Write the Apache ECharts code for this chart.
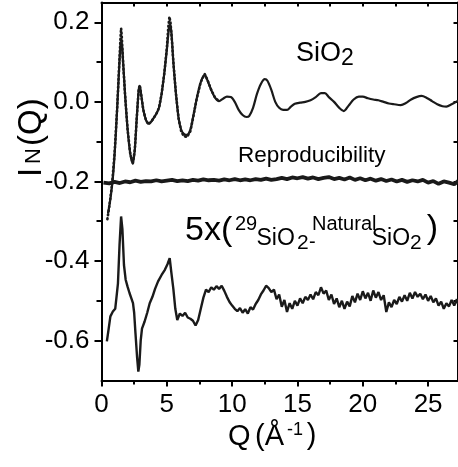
<!DOCTYPE html>
<html>
<head>
<meta charset="utf-8">
<script src="https://cdn.jsdelivr.net/npm/echarts@6/dist/echarts.min.js"></script>
<style>
  html, body { margin: 0; padding: 0; background: #fff; }
  #chart { width: 458px; height: 467px; }
</style>
</head>
<body>
<div id="chart"></div>
<script>
// 轴刻度
const xMajor = [0, 5, 10, 15, 20, 25];
const xMinor = [2.5, 7.5, 12.5, 17.5, 22.5];
const yMajor = [-0.6, -0.4, -0.2, 0.0, 0.2];
const yMinor = [-0.5, -0.3, -0.1, 0.1];

// SiO2 I_N(Q) 实线 [Q, I]
const sio2Line = [
  [0.5, -0.28], [0.7, -0.24], [0.9, -0.18], [1.1, -0.08], [1.3, 0.05], [1.45, 0.14], [1.52, 0.152],
  [1.6, 0.13], [1.8, 0.02], [2.0, -0.07], [2.2, -0.13], [2.4, -0.155], [2.55, -0.12], [2.7, -0.04],
  [2.85, 0.03], [2.93, 0.04], [3.05, 0.015], [3.2, -0.02], [3.4, -0.045], [3.6, -0.055], [3.8, -0.05],
  [4.0, -0.04], [4.2, -0.03], [4.4, -0.015], [4.6, 0.02], [4.8, 0.07], [5.0, 0.13], [5.15, 0.18],
  [5.25, 0.195], [5.35, 0.175], [5.5, 0.1], [5.7, 0.02], [5.9, -0.04], [6.1, -0.07], [6.3, -0.08],
  [6.55, -0.083], [6.8, -0.07], [7.0, -0.04], [7.3, 0.01], [7.6, 0.05], [7.9, 0.068], [8.1, 0.055],
  [8.4, 0.03], [8.7, 0.01], [9.0, 0.002], [9.3, 0.008], [9.6, 0.013], [9.9, 0.012], [10.2, 0.0],
  [10.5, -0.02], [10.8, -0.033], [11.1, -0.038], [11.3, -0.036], [11.6, -0.015], [11.9, 0.02],
  [12.2, 0.045], [12.5, 0.057], [12.7, 0.053], [13.0, 0.03], [13.3, 0.0], [13.6, -0.015], [13.9, -0.02],
  [14.2, -0.02], [14.5, -0.012], [14.8, -0.005], [15.2, -0.002], [15.6, 0.0], [16.0, 0.004],
  [16.4, 0.012], [16.8, 0.022], [17.1, 0.022], [17.4, 0.012], [17.8, 0.0], [18.2, -0.015],
  [18.55, -0.023], [18.9, -0.01], [19.3, 0.006], [19.7, 0.013], [20.0, 0.013], [20.4, 0.009],
  [20.8, 0.006], [21.2, 0.004], [21.6, 0.0], [22.0, -0.004], [22.4, -0.006], [22.9, -0.008],
  [23.3, -0.003], [23.7, 0.006], [24.1, 0.012], [24.5, 0.015], [24.9, 0.01], [25.3, 0.002],
  [25.7, -0.006], [26.1, -0.011], [26.4, -0.012], [26.8, -0.006], [27.3, 0.003]
];

// SiO2 测量点（点线）
const sio2Dots = [
  [0.45, -0.295], [0.6, -0.262], [0.8, -0.21], [1.0, -0.13], [1.2, -0.015], [1.35, 0.09], [1.45, 0.158],
  [1.5, 0.185], [1.55, 0.165], [1.65, 0.1], [1.8, 0.02], [2.0, -0.07], [2.2, -0.13], [2.4, -0.155],
  [2.55, -0.12], [2.7, -0.04], [2.85, 0.032], [2.93, 0.042], [3.05, 0.015], [3.2, -0.02], [3.4, -0.046],
  [3.6, -0.056], [3.8, -0.05], [4.0, -0.04], [4.2, -0.03], [4.4, -0.015], [4.6, 0.02], [4.8, 0.07],
  [5.0, 0.135], [5.12, 0.19], [5.2, 0.214], [5.28, 0.2], [5.4, 0.15], [5.5, 0.1], [5.7, 0.02],
  [5.9, -0.042], [6.1, -0.074], [6.3, -0.086], [6.55, -0.088], [6.8, -0.074], [7.0, -0.042],
  [7.3, 0.01], [7.6, 0.05], [7.9, 0.07], [8.1, 0.056], [8.4, 0.03], [8.7, 0.01], [9.0, 0.002]
];

// 重复性
const repro = [
  [0.15, -0.203], [0.6, -0.205], [1.0, -0.201], [1.4, -0.204], [1.8, -0.2], [2.2, -0.202], [2.6, -0.198],
  [3.0, -0.201], [3.4, -0.199], [3.8, -0.2], [4.2, -0.197], [4.6, -0.2], [5.0, -0.198], [5.4, -0.196],
  [5.8, -0.199], [6.2, -0.197], [6.6, -0.199], [7.0, -0.196], [7.4, -0.198], [7.8, -0.195], [8.2, -0.197],
  [8.6, -0.196], [9.0, -0.198], [9.4, -0.195], [9.8, -0.197], [10.2, -0.194], [10.6, -0.197], [11.0, -0.195],
  [11.4, -0.197], [11.8, -0.194], [12.2, -0.196], [12.6, -0.193], [13.0, -0.196], [13.4, -0.194],
  [13.8, -0.191], [14.2, -0.194], [14.6, -0.19], [15.0, -0.192], [15.4, -0.189], [15.8, -0.193],
  [16.2, -0.19], [16.6, -0.194], [17.0, -0.191], [17.4, -0.189], [17.8, -0.194], [18.2, -0.191],
  [18.6, -0.195], [19.0, -0.19], [19.4, -0.196], [19.8, -0.192], [20.2, -0.197], [20.6, -0.193],
  [21.0, -0.198], [21.4, -0.194], [21.8, -0.199], [22.2, -0.195], [22.6, -0.2], [23.0, -0.196],
  [23.4, -0.201], [23.8, -0.197], [24.2, -0.2], [24.6, -0.196], [25.0, -0.203], [25.4, -0.199],
  [25.8, -0.206], [26.2, -0.2], [26.6, -0.203], [27.0, -0.207], [27.3, -0.199]
];

// 5x(29SiO2 - NaturalSiO2)
const diff = [
  [0.41, -0.602], [0.55, -0.57], [0.68, -0.539], [0.87, -0.527], [1.05, -0.52], [1.15, -0.49],
  [1.26, -0.456], [1.38, -0.36], [1.5, -0.288], [1.6, -0.32], [1.72, -0.41], [1.85, -0.447],
  [2.0, -0.465], [2.15, -0.481], [2.3, -0.495], [2.41, -0.506], [2.5, -0.53], [2.6, -0.581],
  [2.72, -0.64], [2.82, -0.678], [2.9, -0.66], [3.0, -0.6], [3.1, -0.57], [3.3, -0.552], [3.5, -0.53],
  [3.69, -0.506], [3.9, -0.49], [4.1, -0.47], [4.33, -0.451], [4.6, -0.435], [4.85, -0.422],
  [5.05, -0.408], [5.22, -0.393], [5.35, -0.43], [5.5, -0.47], [5.65, -0.52],
  [5.8, -0.548], [6.0, -0.532], [6.2, -0.538], [6.4, -0.53], [6.6, -0.542], [6.8, -0.545], [7.0, -0.55],
  [7.2, -0.562], [7.4, -0.548], [7.6, -0.52], [7.8, -0.492], [8.0, -0.472], [8.2, -0.478], [8.4, -0.466],
  [8.6, -0.472], [8.8, -0.463], [9.0, -0.47], [9.2, -0.462], [9.4, -0.475], [9.6, -0.49], [9.8, -0.503],
  [10.0, -0.512], [10.2, -0.52], [10.4, -0.526], [10.6, -0.518], [10.8, -0.53], [11.0, -0.521],
  [11.2, -0.532], [11.4, -0.516], [11.6, -0.522], [11.8, -0.508], [12.0, -0.498], [12.2, -0.484],
  [12.4, -0.474], [12.6, -0.462], [12.7, -0.457], [12.8, -0.468], [13.0, -0.478], [13.2, -0.472],
  [13.4, -0.496], [13.6, -0.484], [13.8, -0.515], [14.0, -0.498], [14.2, -0.528], [14.4, -0.506],
  [14.6, -0.52], [14.8, -0.5], [15.0, -0.512], [15.2, -0.494], [15.4, -0.506], [15.6, -0.49],
  [15.8, -0.498], [16.0, -0.484], [16.2, -0.496], [16.4, -0.478], [16.6, -0.486], [16.8, -0.466],
  [17.0, -0.482], [17.2, -0.474], [17.4, -0.498], [17.6, -0.484], [17.8, -0.508], [18.0, -0.494],
  [18.2, -0.516], [18.4, -0.5], [18.6, -0.52], [18.8, -0.502], [19.0, -0.514], [19.2, -0.488],
  [19.4, -0.504], [19.6, -0.482], [19.8, -0.498], [20.0, -0.476], [20.2, -0.494], [20.4, -0.48],
  [20.6, -0.5], [20.8, -0.474], [21.0, -0.492], [21.2, -0.478], [21.4, -0.498], [21.6, -0.486],
  [21.8, -0.528], [22.0, -0.504], [22.2, -0.516], [22.4, -0.498], [22.6, -0.508], [22.8, -0.49],
  [23.0, -0.502], [23.2, -0.486], [23.4, -0.5], [23.6, -0.48], [23.8, -0.494], [24.0, -0.478],
  [24.2, -0.49], [24.4, -0.482], [24.6, -0.496], [24.8, -0.484], [25.0, -0.5], [25.2, -0.488],
  [25.4, -0.504], [25.6, -0.494], [25.8, -0.512], [26.0, -0.502], [26.2, -0.52], [26.4, -0.506],
  [26.6, -0.514], [26.8, -0.498], [27.0, -0.512], [27.2, -0.496], [27.3, -0.508]
];

const X_MIN = 0, X_MAX = 27.25;
const Y_MIN = -0.7, Y_MAX = 0.25;
const FONT = "Liberation Sans, Arial, sans-serif";
const INK = "#1a1a1a";
const axisLine = { show: true, onZero: false, lineStyle: { color: "#000", width: 2 } };
const noLine = { show: false, onZero: false };

const txt = (text, x, y, size, extra) => ({
  type: "text",
  x, y,
  style: Object.assign({ text, fontSize: size, fontFamily: FONT, fill: "#000", align: "left", verticalAlign: "middle" }, extra || {})
});

const chart = echarts.init(document.getElementById("chart"), null, { renderer: "canvas" });

const option = {
  animation: false,
  backgroundColor: "#fff",
  grid: { left: 101.5, top: 2.4, width: 356, height: 378, containLabel: false },
  xAxis: [
    {
      type: "value", position: "bottom", min: X_MIN, max: X_MAX,
      axisLine,
      axisTick: { show: true, length: 6, customValues: xMajor, lineStyle: { color: "#000", width: 2 } },
      axisLabel: { show: true, customValues: xMajor, margin: 11, fontSize: 26, fontFamily: FONT, color: "#000" },
      splitLine: { show: false }
    },
    {
      type: "value", position: "bottom", min: X_MIN, max: X_MAX,
      axisLine: noLine,
      axisTick: { show: true, length: 4, customValues: xMinor, lineStyle: { color: "#000", width: 2 } },
      axisLabel: { show: false },
      splitLine: { show: false }
    },
    {
      type: "value", position: "top", min: X_MIN, max: X_MAX, interval: 2.5,
      axisLine,
      axisTick: { show: true, inside: true, length: 4, lineStyle: { color: "#000", width: 2 } },
      axisLabel: { show: false },
      splitLine: { show: false }
    }
  ],
  yAxis: [
    {
      type: "value", position: "left", min: Y_MIN, max: Y_MAX,
      axisLine,
      axisTick: { show: true, length: 7, customValues: yMajor, lineStyle: { color: "#000", width: 2 } },
      axisLabel: {
        show: true, customValues: yMajor, margin: 12, fontSize: 26, fontFamily: FONT, color: "#000",
        formatter: (v) => v.toFixed(1)
      },
      splitLine: { show: false }
    },
    {
      type: "value", position: "left", min: Y_MIN, max: Y_MAX,
      axisLine: noLine,
      axisTick: { show: true, length: 5, customValues: yMinor, lineStyle: { color: "#000", width: 2 } },
      axisLabel: { show: false },
      splitLine: { show: false }
    },
    {
      type: "value", position: "right", min: Y_MIN, max: Y_MAX, interval: 0.1,
      axisLine,
      axisTick: { show: true, inside: true, length: 4, lineStyle: { color: "#000", width: 2 } },
      axisLabel: { show: false },
      splitLine: { show: false }
    }
  ],
  series: [
    {
      name: "SiO2 dots", type: "line", data: sio2Dots, showSymbol: false, smooth: false,
      lineStyle: { color: INK, width: 2.6, type: [1, 3], cap: "round" }, z: 2
    },
    {
      name: "SiO2", type: "line", data: sio2Line, showSymbol: false, smooth: 0.3,
      lineStyle: { color: INK, width: 2.2 }, z: 3
    },
    {
      name: "Reproducibility", type: "line", data: repro, showSymbol: false,
      lineStyle: { color: INK, width: 3.8 }, z: 3
    },
    {
      name: "5x diff", type: "line", data: diff, showSymbol: false,
      lineStyle: { color: INK, width: 2.4 }, z: 3
    }
  ],
  graphic: [
    // SiO2
    txt("SiO", 296, 54, 27),
    txt("2", 341, 59, 23),
    // Reproducibility
    txt("Reproducibility", 238, 156, 22.5),
    // 5x(29SiO2-NaturalSiO2)
    txt("5x(", 185, 231, 34),
    txt("29", 235, 224, 20),
    txt("SiO", 256.5, 238.7, 23),
    txt("2", 297, 243.3, 21),
    txt("-", 309, 242, 20),
    txt("Natural", 312, 224.2, 20),
    txt("SiO", 371.7, 238.7, 23),
    txt("2", 410, 243.3, 21),
    txt(")", 426.7, 229, 34),
    // x 轴标题 Q (Å-1)
    txt("Q", 228, 436.7, 29),
    txt("(Å", 255, 436.7, 29),
    txt("-1", 287, 430, 18),
    txt(")", 306.7, 436, 29),
    // y 轴标题 I_N(Q)
    {
      type: "group", x: 31.5, y: 177, rotation: Math.PI / 2,
      children: [
        txt("I", 0, 0, 33),
        txt("N", 13, 2, 22),
        txt("(Q)", 31, 0, 33)
      ]
    }
  ]
};

chart.setOption(option);
</script>
</body>
</html>
